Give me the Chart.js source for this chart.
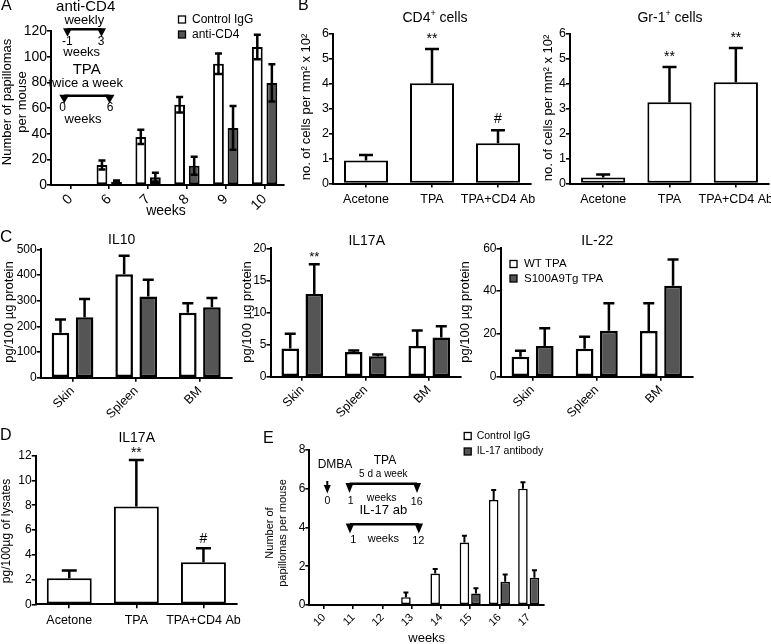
<!DOCTYPE html>
<html>
<head>
<meta charset="utf-8">
<script src="https://cdn.jsdelivr.net/npm/chart.js@4.4.1/dist/chart.umd.min.js"></script>
<style>
  html, body { margin: 0; padding: 0; background: #fff; }
  #wrap { position: relative; width: 771px; height: 644px; overflow: hidden; }
  #wrap canvas { position: absolute; left: 0; top: 0; }
</style>
</head>
<body>
<div id="wrap">
  <canvas id="chartA" width="771" height="644"></canvas>
  <canvas id="chartB1" width="771" height="644"></canvas>
  <canvas id="chartB2" width="771" height="644"></canvas>
  <canvas id="chartC1" width="771" height="644"></canvas>
  <canvas id="chartC2" width="771" height="644"></canvas>
  <canvas id="chartC3" width="771" height="644"></canvas>
  <canvas id="chartD" width="771" height="644"></canvas>
  <canvas id="chartE" width="771" height="644"></canvas>
</div>
<script>
// fonts / colours
const SANS = "'Liberation Sans', Arial, Helvetica, sans-serif";
const NARROW = "'Liberation Sans Narrow', 'Liberation Sans', Arial, sans-serif";
const WHITE = '#ffffff';
const DARK = '#555555';

// ---- A: papillomas, anti-CD4 ----
const weeksA = ['0', '6', '7', '8', '9', '10'];
const yTicksA = [0, 20, 40, 60, 80, 100, 120];
const controlA = [0, 15.5, 37.5, 62.5, 94.5, 107.5];
const controlAErr = [null, 3.5, 5.5, 6, 8, 9.5];
const antiCD4A = [0, 2.5, 6, 15, 44.5, 79.5];
const antiCD4AErr = [null, 1, 3.5, 7, 17, 14.5];

// ---- B: cell counts ----
const treatments = ['Acetone', 'TPA', 'TPA+CD4 Ab'];
const yTicksB = [0, 1, 2, 3, 4, 5, 6];
const cd4Cells = [0.92, 4.02, 1.62];
const cd4CellsErr = [0.22, 1.38, 0.52];
const cd4Marks = ['', '**', '#'];
const gr1Cells = [0.24, 3.26, 4.06];
const gr1CellsErr = [0.12, 1.42, 1.38];
const gr1Marks = ['', '**', '**'];

// ---- C: cytokines ----
const tissues = ['Skin', 'Spleen', 'BM'];
const yTicksIL10 = [0, 100, 200, 300, 400, 500];
const il10WT = [175, 403, 253];
const il10WTErr = [52, 72, 37];
const il10Tg = [235, 316, 274];
const il10TgErr = [71, 65, 36];
const yTicksIL17 = [0, 5, 10, 15, 20];
const il17WT = [4.4, 3.85, 4.8];
const il17WTErr = [2.3, 0.25, 2.4];
const il17Tg = [12.9, 3.2, 6.1];
const il17TgErr = [4.6, 0.25, 1.75];
const il17TgMarks = ['**', '', ''];
const yTicksIL22 = [0, 20, 40, 60];
const il22WT = [9.3, 13.1, 21.3];
const il22WTErr = [2.8, 5.6, 13];
const il22Tg = [14.3, 21.5, 42.5];
const il22TgErr = [8.3, 12.8, 12.3];

// ---- D: IL17A in lysates ----
const yTicksD = [0, 2, 4, 6, 8, 10, 12];
const il17Lysate = [2.1, 7.9, 3.4];
const il17LysateErr = [0.62, 3.75, 1.12];
const lysateMarks = ['', '**', '#'];

// ---- E: papillomas, IL-17 antibody ----
const weeksE = ['10', '11', '12', '13', '14', '15', '16', '17'];
const yTicksE = [0, 2, 4, 6, 8];
const controlE = [0, 0, 0, 0.4, 1.62, 3.22, 5.42, 6.0];
const controlEErr = [null, null, null, 0.25, 0.24, 0.36, 0.52, 0.33];
const il17AbE = [0, 0, 0, 0, 0, 0.6, 1.2, 1.41];
const il17AbEErr = [null, null, null, null, null, 0.26, 0.38, 0.39];

// ---------- drawing helpers ----------
function put(ctx, s, x, y, font, align, rot) {
  ctx.save();
  ctx.font = font;
  ctx.fillStyle = '#000';
  ctx.textAlign = align || 'center';
  ctx.textBaseline = 'middle';
  ctx.translate(x, y);
  if (rot) ctx.rotate(rot);
  ctx.fillText(s, 0, 0);
  ctx.restore();
}
function tri(ctx, x, y, w, h) {
  ctx.beginPath();
  ctx.moveTo(x - w / 2, y); ctx.lineTo(x + w / 2, y); ctx.lineTo(x, y + h);
  ctx.closePath(); ctx.fill();
}
function hline(ctx, x1, x2, y, lw) {
  ctx.save(); ctx.lineWidth = lw; ctx.strokeStyle = '#000';
  ctx.beginPath(); ctx.moveTo(x1, y); ctx.lineTo(x2, y); ctx.stroke(); ctx.restore();
}
function supTitle(ctx, base, sup, rest, cx, cy, size) {
  ctx.save();
  ctx.fillStyle = '#000'; ctx.textBaseline = 'alphabetic'; ctx.textAlign = 'left';
  const f = size + 'px ' + SANS, fs = Math.round(size * 0.62) + 'px ' + SANS;
  ctx.font = f; const w1 = ctx.measureText(base).width, w3 = ctx.measureText(rest).width;
  ctx.font = fs; const w2 = ctx.measureText(sup).width;
  let x = cx - (w1 + w2 + w3) / 2; const by = cy + size * 0.36;
  ctx.font = f; ctx.fillText(base, x, by); x += w1;
  ctx.font = fs; ctx.fillText(sup, x, by - size * 0.42); x += w2;
  ctx.font = f; ctx.fillText(rest, x, by);
  ctx.restore();
}
function legend(ctx, chart, x, ys, box, tx, font) {
  ctx.save();
  chart.data.datasets.forEach((ds, i) => {
    ctx.fillStyle = ds.backgroundColor; ctx.strokeStyle = '#000'; ctx.lineWidth = 1.3;
    ctx.fillRect(x, ys[i] - box / 2, box, box);
    ctx.strokeRect(x, ys[i] - box / 2, box, box);
    put(ctx, ds.label, tx, ys[i], font, 'left');
  });
  ctx.restore();
}

// error bars + significance marks, placed through the y scale
const errorBarPlugin = {
  id: 'errorBars',
  afterDatasetsDraw(chart, args, opts) {
    const ctx = chart.ctx, yScale = chart.scales.y;
    ctx.save();
    ctx.strokeStyle = '#000';
    ctx.lineWidth = opts.width;
    chart.data.datasets.forEach((ds, di) => {
      const bars = chart.getDatasetMeta(di).data;
      ds.data.forEach((v, i) => {
        const e = ds.errors ? ds.errors[i] : null;
        if (e == null) return;
        const x = bars[i].x, half = opts.cap / 2;
        const top = yScale.getPixelForValue(v + e);
        const bottom = yScale.getPixelForValue(opts.both ? v - e : v);
        ctx.beginPath();
        ctx.moveTo(x, bottom); ctx.lineTo(x, top);
        ctx.moveTo(x - half, top); ctx.lineTo(x + half, top);
        if (opts.both) { ctx.moveTo(x - half, bottom); ctx.lineTo(x + half, bottom); }
        ctx.stroke();
        const m = ds.marks ? ds.marks[i] : '';
        if (m) {
          ctx.save();
          ctx.font = opts.markFont; ctx.fillStyle = '#000';
          ctx.textAlign = 'center'; ctx.textBaseline = 'alphabetic';
          const mm = ctx.measureText(m);
          const cy = top - opts.markGap;
          ctx.fillText(m, x, cy + (mm.actualBoundingBoxAscent - mm.actualBoundingBoxDescent) / 2);
          ctx.restore();
        }
      });
    });
    ctx.restore();
  }
};

function barChart(id, o, deco) {
  const W = 771, H = 644;
  const axisLine = {display: true, color: '#000', width: 2};
  const tickMarks = {display: true, drawOnChartArea: false, drawTicks: true, tickLength: 4,
                     color: '#000', lineWidth: 1.6, offset: false};
  return new Chart(document.getElementById(id), {
    type: 'bar',
    data: {
      labels: o.labels,
      datasets: o.series.map(s => ({
        label: s.label, data: s.data, errors: s.err, marks: s.marks,
        backgroundColor: s.fill, borderColor: '#000', borderWidth: o.bw, borderSkipped: false,
        categoryPercentage: o.cat, barPercentage: o.bar
      }))
    },
    options: {
      responsive: false, animation: false, events: [],
      layout: {padding: {left: 0, right: W - o.area.r, top: o.area.t, bottom: 0}},
      plugins: {
        legend: {display: false}, tooltip: {enabled: false},
        errorBars: o.err
      },
      scales: {
        x: {
          offset: true, grid: tickMarks, border: axisLine,
          ticks: {color: '#000', font: o.xFont, minRotation: o.rot, maxRotation: o.rot,
                  autoSkip: false, padding: o.xPad},
          afterFit: s => { s.height = H - o.area.b; s.paddingLeft = 0; s.paddingRight = 0; }
        },
        y: {
          min: 0, max: o.yTicks[o.yTicks.length - 1],
          grid: tickMarks, border: axisLine,
          ticks: {color: '#000', font: o.yFont, padding: 0},
          afterBuildTicks: s => { s.ticks = o.yTicks.map(v => ({value: v})); },
          afterFit: s => { s.width = o.area.l; s.paddingTop = 0; s.paddingBottom = 0; }
        }
      }
    },
    plugins: [errorBarPlugin, {id: 'deco_' + id, afterDraw: chart => deco(chart.ctx, chart)}]
  });
}

// ---------- A ----------
barChart('chartA', {
  area: {l: 51, r: 284, t: 31, b: 185},
  labels: weeksA, yTicks: yTicksA,
  series: [
    {label: 'Control IgG', data: controlA, err: controlAErr, fill: WHITE},
    {label: 'anti-CD4', data: antiCD4A, err: antiCD4AErr, fill: DARK}
  ],
  bw: 2, cat: 0.75, bar: 0.74, rot: 45, xPad: 2,
  xFont: {family: NARROW, size: 14}, yFont: {family: NARROW, size: 14},
  err: {width: 2.5, cap: 7, both: true}
}, (ctx, chart) => {
  put(ctx, 'A', 1, 6, '16px ' + SANS, 'left');
  put(ctx, 'Number of papillomas', 7.5, 102, '13px ' + SANS, 'center', -Math.PI / 2);
  put(ctx, 'per mouse', 22, 102, '13px ' + SANS, 'center', -Math.PI / 2);
  put(ctx, 'weeks', 166, 211, '14px ' + NARROW);
  legend(ctx, chart, 178.5, [19.5, 34.5], 7, 192, '12px ' + NARROW);
  // treatment schedule inset
  ctx.fillStyle = '#000';
  put(ctx, 'anti-CD4', 85.7, 7, '15px ' + NARROW);
  put(ctx, 'weekly', 84.3, 20, '13px ' + NARROW);
  hline(ctx, 67.5, 101.5, 29.2, 2.5);
  tri(ctx, 67.5, 28.2, 9, 8.5); tri(ctx, 101.5, 28.2, 9, 8.5);
  put(ctx, '-1', 67.3, 41.5, '12px ' + NARROW);
  put(ctx, '3', 101, 41.5, '12px ' + NARROW);
  put(ctx, 'weeks', 81.7, 52.5, '13px ' + NARROW);
  put(ctx, 'TPA', 86.7, 70, '15px ' + NARROW);
  put(ctx, 'twice a week', 85.7, 83.8, '13px ' + NARROW);
  hline(ctx, 64.3, 109.5, 95.8, 2.5);
  tri(ctx, 64.3, 94.8, 10, 8.5); tri(ctx, 109.5, 94.8, 10, 8.5);
  put(ctx, '0', 62.7, 107.5, '12px ' + NARROW);
  put(ctx, '6', 110, 107.5, '12px ' + NARROW);
  put(ctx, 'weeks', 83, 119, '13px ' + NARROW);
});

// ---------- B ----------
const optsB = {
  labels: treatments, yTicks: yTicksB, bw: 2, cat: 0.667, bar: 1, rot: 0, xPad: 5,
  xFont: {family: SANS, size: 12.5}, yFont: {family: SANS, size: 12.5},
  err: {width: 2.5, cap: 14, both: false, markFont: '14px ' + SANS, markGap: 12.5}
};
barChart('chartB1', Object.assign({}, optsB, {
  area: {l: 333, r: 531, t: 34, b: 183.5},
  series: [{label: 'CD4+ cells', data: cd4Cells, err: cd4CellsErr, marks: cd4Marks, fill: WHITE}]
}), (ctx) => {
  put(ctx, 'B', 298, 6, '16px ' + SANS, 'left');
  supTitle(ctx, 'CD4', '+', ' cells', 435, 16.7, 14);
  put(ctx, 'no. of cells per mm\u00b2 x 10\u00b2', 306.7, 107, '13px ' + SANS, 'center', -Math.PI / 2);
});
barChart('chartB2', Object.assign({}, optsB, {
  area: {l: 570, r: 769, t: 34, b: 183.5},
  series: [{label: 'Gr-1+ cells', data: gr1Cells, err: gr1CellsErr, marks: gr1Marks, fill: WHITE}]
}), (ctx) => {
  supTitle(ctx, 'Gr-1', '+', ' cells', 670, 16.7, 14);
  put(ctx, 'no. of cells per mm\u00b2 x 10\u00b2', 548, 108, '13px ' + SANS, 'center', -Math.PI / 2);
});

// ---------- C ----------
const optsC = {
  labels: tissues, bw: 2.5, cat: 0.757, bar: 0.73, rot: 45, xPad: 2,
  xFont: {family: SANS, size: 12.5}, yFont: {family: NARROW, size: 12},
  err: {width: 2.5, cap: 11, both: false, markFont: '13px ' + SANS, markGap: 10}
};
barChart('chartC1', Object.assign({}, optsC, {
  area: {l: 40.7, r: 231.7, t: 249.3, b: 377.7}, yTicks: yTicksIL10,
  series: [
    {label: 'WT TPA', data: il10WT, err: il10WTErr, fill: WHITE},
    {label: 'S100A9Tg TPA', data: il10Tg, err: il10TgErr, fill: DARK}
  ]
}), (ctx) => {
  put(ctx, 'C', 0, 237, '17px ' + NARROW, 'left');
  put(ctx, 'IL10', 121.7, 240, '14px ' + NARROW);
  put(ctx, 'pg/100 \u00b5g protein', 9.5, 312, '13px ' + SANS, 'center', -Math.PI / 2);
});
barChart('chartC2', Object.assign({}, optsC, {
  area: {l: 270.5, r: 461, t: 248.3, b: 376.7}, yTicks: yTicksIL17,
  series: [
    {label: 'WT TPA', data: il17WT, err: il17WTErr, fill: WHITE},
    {label: 'S100A9Tg TPA', data: il17Tg, err: il17TgErr, marks: il17TgMarks, fill: DARK}
  ]
}), (ctx) => {
  put(ctx, 'IL17A', 366.7, 240.7, '14px ' + NARROW);
  put(ctx, 'pg/100 \u00b5g protein', 247, 312, '13px ' + SANS, 'center', -Math.PI / 2);
});
barChart('chartC3', Object.assign({}, optsC, {
  area: {l: 500.5, r: 693, t: 248.3, b: 376.7}, yTicks: yTicksIL22,
  series: [
    {label: 'WT TPA', data: il22WT, err: il22WTErr, fill: WHITE},
    {label: 'S100A9Tg TPA', data: il22Tg, err: il22TgErr, fill: DARK}
  ]
}), (ctx, chart) => {
  put(ctx, 'IL-22', 597.3, 240.7, '14px ' + NARROW);
  put(ctx, 'pg/100 \u00b5g protein', 465.5, 312, '13px ' + SANS, 'center', -Math.PI / 2);
  legend(ctx, chart, 510, [264, 278.5], 7, 524, '11.5px ' + NARROW);
});

// ---------- D ----------
barChart('chartD', {
  area: {l: 35.7, r: 237, t: 455.7, b: 604.3},
  labels: treatments, yTicks: yTicksD,
  series: [{label: 'IL17A', data: il17Lysate, err: il17LysateErr, marks: lysateMarks, fill: WHITE}],
  bw: 2, cat: 0.67, bar: 1, rot: 0, xPad: 5,
  xFont: {family: SANS, size: 12.5}, yFont: {family: SANS, size: 12},
  err: {width: 2.5, cap: 15, both: false, markFont: '14px ' + SANS, markGap: 10}
}, (ctx) => {
  put(ctx, 'D', 0, 436, '16px ' + SANS, 'left');
  put(ctx, 'IL17A', 136.7, 438.3, '14px ' + SANS);
  put(ctx, 'pg/100\u00b5g of lysates', 7, 531, '12px ' + SANS, 'center', -Math.PI / 2);
});

// ---------- E ----------
barChart('chartE', {
  area: {l: 309.3, r: 543.3, t: 450, b: 605},
  labels: weeksE, yTicks: yTicksE,
  series: [
    {label: 'Control IgG', data: controlE, err: controlEErr, fill: WHITE},
    {label: 'IL-17 antibody', data: il17AbE, err: il17AbEErr, fill: DARK}
  ],
  bw: 1.6, cat: 0.786, bar: 0.83, rot: 45, xPad: 2,
  xFont: {family: SANS, size: 11}, yFont: {family: SANS, size: 12},
  err: {width: 2, cap: 5, both: false}
}, (ctx, chart) => {
  put(ctx, 'E', 263, 439, '16px ' + SANS, 'left');
  put(ctx, 'Number of', 270, 533, '11px ' + SANS, 'center', -Math.PI / 2);
  put(ctx, 'papillomas per mouse', 283, 533, '11px ' + SANS, 'center', -Math.PI / 2);
  put(ctx, 'weeks', 426.7, 638, '13px ' + SANS);
  legend(ctx, chart, 464.2, [436, 451.5], 7, 476.7, '10.5px ' + SANS);
  // treatment schedule inset
  ctx.fillStyle = '#000';
  put(ctx, 'DMBA', 335, 465, '12px ' + SANS);
  put(ctx, 'TPA', 385, 460.7, '12px ' + SANS);
  put(ctx, '5 d a week', 383.3, 474.3, '10px ' + SANS);
  ctx.save(); ctx.lineWidth = 2; ctx.beginPath(); ctx.moveTo(327.3, 481); ctx.lineTo(327.3, 486); ctx.stroke(); ctx.restore();
  tri(ctx, 327.3, 485, 7, 8.5);
  hline(ctx, 349.5, 417, 483.8, 2.5);
  tri(ctx, 349.5, 483, 8, 10); tri(ctx, 417, 483, 8, 10);
  put(ctx, '0', 327.3, 500.7, '10.5px ' + SANS);
  put(ctx, '1', 350.7, 500.7, '10.5px ' + SANS);
  put(ctx, 'weeks', 381.7, 498.3, '10.5px ' + SANS);
  put(ctx, '16', 416.7, 501.7, '10.5px ' + SANS);
  put(ctx, 'IL-17 ab', 383.3, 510, '13px ' + SANS);
  hline(ctx, 350, 418.8, 524.3, 2.5);
  tri(ctx, 350, 523.5, 8.5, 10); tri(ctx, 418.8, 523.5, 8.5, 10);
  put(ctx, '1', 353.3, 540, '11px ' + SANS);
  put(ctx, 'weeks', 383.3, 539, '11px ' + SANS);
  put(ctx, '12', 418.3, 541, '11px ' + SANS);
});
</script>
</body>
</html>
